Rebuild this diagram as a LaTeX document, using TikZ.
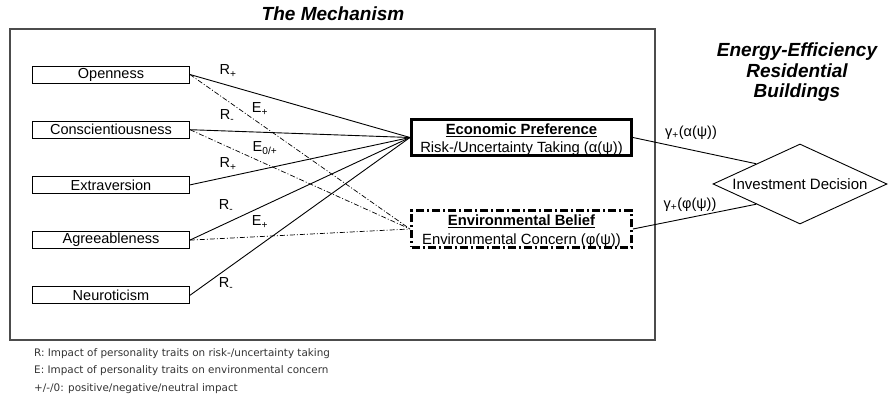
\documentclass[tikz,border=0pt]{standalone}
\usepackage{fontspec}
\setmainfont{Liberation Sans}
\newfontfamily\notefont{DejaVu Sans}
\usetikzlibrary{shapes.geometric}

\begin{document}
\begin{tikzpicture}[
                        x=1pt, y=-1pt,
                        node distance=55.2pt,
                        trait/.style={rectangle, draw, line width=0.9pt, minimum width=157pt, minimum height=17pt, inner sep=0pt, font=\fontsize{14.5}{16}\selectfont},
                        factor/.style={rectangle, draw, line width=3pt, minimum width=220pt, minimum height=36pt, inner sep=0pt, align=center, font=\fontsize{14.8}{18.5}\selectfont},
                        lbl/.style={inner sep=0pt, font=\fontsize{14.5}{16}\selectfont},
                        hdr/.style={inner sep=0pt, align=center, font=\fontsize{19}{20.5}\selectfont\bfseries\itshape},
                        effect/.style={line width=0.7pt, dash pattern=on 5pt off 2pt on 1pt off 2pt}
                    ]
                    \useasboundingbox (0,0) rectangle (889,398);

                    % Frame and headings
                    \node [rectangle, draw=black!70, line width=1.3pt, minimum width=645pt, minimum height=311pt] (mech) at (332.5,184.5) {};
                    \node [hdr] (mechtitle) at (333,14) {The Mechanism};
                    \node [hdr] (bldg) at (797,72.5) {Energy-Efficiency\\Residential\\Buildings};

                    % Blocks
                    \node [trait] (open) at (111,74.5) {Openness};
                    \node [trait,below of=open] (consc) {Conscientiousness};
                    \node [trait,below of=consc] (extra) {Extraversion};
                    \node [trait,below of=extra] (agree) {Agreeableness};
                    \node [trait,below of=agree] (neuro) {Neuroticism};

                    \node [factor] (econ) at (521.5,137.5) {\rule{0pt}{15pt}\underline{\textbf{Economic Preference}}\\Risk-/Uncertainty Taking (α(ψ))};
                    \node [factor,dash pattern=on 8pt off 3pt on 2pt off 3pt] (env) at (521.5,229) {\rule{0pt}{15pt}\underline{\textbf{Environmental Belief}}\\Environmental Concern (φ(ψ))};

                    \node [diamond, draw, line width=0.9pt, aspect=2.2, minimum width=174pt, minimum height=80pt, inner sep=1pt, font=\fontsize{15}{17}\selectfont] (invest) at (800,184) {Investment Decision};

                    % Connections
                    \draw [line width=0.9pt] (open.east) -- (econ.west);
                    \draw [line width=0.9pt] (consc.east) -- (econ.west);
                    \draw [line width=0.9pt] (extra.east) -- (econ.west);
                    \draw [line width=0.9pt] (agree.east) -- (econ.west);
                    \draw [line width=0.9pt] (neuro.east) -- (econ.west);
                    \draw [effect] (open.east) -- (env.west);
                    \draw [effect] (consc.east) -- (env.west);
                    \draw [effect] (agree.east) -- (env.west);
                    \draw [line width=0.9pt] (econ.east) -- (invest.north west);
                    \draw [line width=0.9pt] (env.east) -- (invest.south west);

                    % Labels
                    \node [lbl] (rOpen) at (228,71) {R\textsubscript{+}};
                    \node [lbl] (eOpen) at (260,109) {E\textsubscript{+}};
                    \node [lbl] (rConsc) at (227,116) {R\textsubscript{-}};
                    \node [lbl] (eConsc) at (265,148) {E\textsubscript{0/+}};
                    \node [lbl] (rExtra) at (228,164) {R\textsubscript{+}};
                    \node [lbl] (rAgree) at (226,206) {R\textsubscript{-}};
                    \node [lbl] (eAgree) at (260,222) {E\textsubscript{+}};
                    \node [lbl] (rNeuro) at (226,284) {R\textsubscript{-}};
                    \node [lbl] (gEcon) at (691,133) {γ\textsubscript{+}(α(ψ))};
                    \node [lbl] (gEnv) at (690,205) {γ\textsubscript{+}(φ(ψ))};

                    % Legend
                    \node [anchor=west, align=left, inner sep=0pt, text=black!80, font=\notefont\fontsize{10.4}{17.8}\selectfont] (notes) at (34,371) {R: Impact of personality traits on risk-/uncertainty taking\\E: Impact of personality traits on environmental concern\\+/-/0: positive/negative/neutral impact};
                \end{tikzpicture}
\end{document}
